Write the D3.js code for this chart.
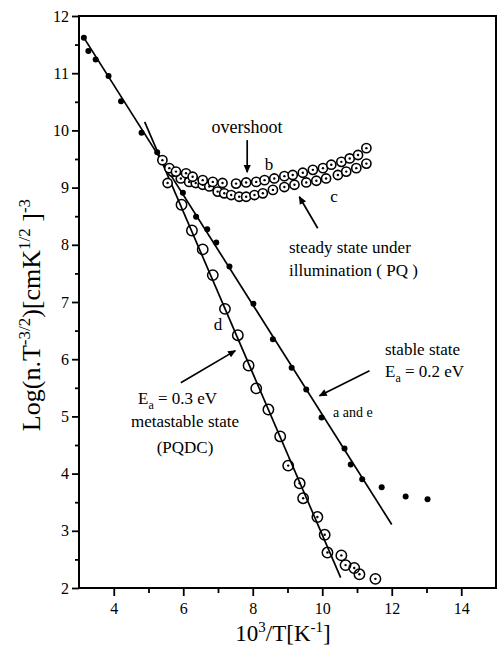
<!DOCTYPE html>
<html>
<head>
<meta charset="utf-8">
<script src="https://cdn.jsdelivr.net/npm/d3@7"></script>
<style>
  body { margin: 0; background: #fff; }
  text { font-family: "Liberation Serif", "DejaVu Serif", serif; fill: #000; }
</style>
</head>
<body>
<svg width="497" height="651"></svg>
<script>
// series a and e : stable state, filled dots
let stableX = [3.14, 3.27, 3.48, 3.85, 4.21, 4.80, 5.25, 5.99, 6.37, 6.69, 6.95, 7.33, 8.02, 8.58, 9.12, 9.54, 9.98, 10.64, 10.82, 11.15, 11.71, 12.40, 13.03]
let stableY = [11.62, 11.39, 11.24, 10.95, 10.51, 9.96, 9.62, 8.91, 8.49, 8.27, 8.04, 7.62, 6.97, 6.35, 5.85, 5.47, 4.98, 4.44, 4.16, 3.90, 3.76, 3.60, 3.55]

// series d : metastable state (PQDC)
let metaX = [5.95, 6.25, 6.56, 6.85, 7.20, 7.57, 7.88, 8.10, 8.45, 8.79, 9.02, 9.35, 9.45, 9.86, 10.07, 10.15, 10.55, 10.67, 10.92, 11.07, 11.53]
let metaY = [8.70, 8.25, 7.92, 7.47, 6.88, 6.42, 5.89, 5.49, 5.12, 4.65, 4.14, 3.83, 3.57, 3.24, 2.93, 2.62, 2.57, 2.40, 2.35, 2.24, 2.16]

// series b : steady state under illumination, upper
let bX = [5.40, 5.60, 5.79, 6.08, 6.27, 6.56, 6.85, 7.13, 7.52, 7.81, 8.10, 8.34, 8.62, 8.91, 9.15, 9.44, 9.73, 10.02, 10.26, 10.55, 10.79, 11.03, 11.27]
let bY = [9.48, 9.34, 9.28, 9.25, 9.19, 9.13, 9.10, 9.08, 9.07, 9.09, 9.10, 9.13, 9.16, 9.20, 9.22, 9.26, 9.31, 9.34, 9.40, 9.45, 9.51, 9.57, 9.69]

// series c : steady state under illumination, lower
let cX = [5.55, 5.69, 5.93, 6.17, 6.36, 6.56, 6.75, 6.99, 7.18, 7.38, 7.61, 7.81, 8.05, 8.29, 8.58, 8.91, 9.20, 9.54, 9.83, 10.11, 10.45, 10.69, 10.98, 11.27]
let cY = [9.08, 9.28, 9.16, 9.10, 9.08, 9.05, 9.02, 8.93, 8.90, 8.87, 8.84, 8.84, 8.87, 8.90, 8.96, 9.01, 9.05, 9.09, 9.12, 9.16, 9.22, 9.28, 9.34, 9.42]

// fitted lines
let fitStableX = [3.12, 12.0]
let fitStableY = [11.64, 3.11]
let fitMetaX = [4.89, 10.53]
let fitMetaY = [10.15, 2.18]

let xTicks = [4, 6, 8, 10, 12, 14]
let yTicks = [2, 3, 4, 5, 6, 7, 8, 9, 10, 11, 12]

let margin = { top: 16, bottom: 63, left: 79, right: 1 }
let width = 497
let height = 651

let xScale = d3.scaleLinear()
  .domain([3, 15])
  .range([margin.left, width - margin.right])
let yScale = d3.scaleLinear()
  .domain([2, 12])
  .range([height - margin.bottom, margin.top])

let svg = d3.select('svg')

let zip = (xs, ys) => xs.map((x, i) => ({ x: x, y: ys[i] }))

// frame
svg.append('rect')
  .attr('x', xScale(3))
  .attr('y', yScale(12))
  .attr('width', xScale(15) - xScale(3))
  .attr('height', yScale(2) - yScale(12))
  .attr('fill', 'none')
  .attr('stroke', '#000')
  .attr('stroke-width', 2)

// axes
let xAxis = d3.axisBottom(xScale).tickValues(xTicks).tickSize(8).tickPadding(7).tickFormat(d3.format('d'))
let xMinor = d3.axisBottom(xScale).tickValues([5, 7, 9, 11, 13]).tickSize(5).tickFormat('')
let yAxis = d3.axisLeft(yScale).tickValues(yTicks).tickSize(7).tickPadding(3).tickFormat(d3.format('d'))
let yMinor = d3.axisLeft(yScale).tickValues(d3.range(2.5, 12, 1)).tickSize(4).tickFormat('')

function styleAxis(g) {
  g.select('.domain').remove()
  g.selectAll('line').attr('stroke', '#000').attr('stroke-width', 1.8)
  g.selectAll('text').style('font-family', '"Liberation Serif", serif').style('font-size', '16px')
}

svg.append('g').attr('transform', 'translate(' + [0, yScale(2)] + ')').call(xAxis).call(styleAxis)
svg.append('g').attr('transform', 'translate(' + [0, yScale(2)] + ')').call(xMinor).call(styleAxis)
svg.append('g').attr('transform', 'translate(' + [xScale(3), 0] + ')').call(yAxis).call(styleAxis)
svg.append('g').attr('transform', 'translate(' + [xScale(3), 0] + ')').call(yMinor).call(styleAxis)

// fit lines
let line = d3.line().x(d => xScale(d.x)).y(d => yScale(d.y))
svg.append('path')
  .attr('d', line(zip(fitStableX, fitStableY)))
  .attr('stroke', '#000').attr('stroke-width', 1.7).attr('fill', 'none')
svg.append('path')
  .attr('d', line(zip(fitMetaX, fitMetaY)))
  .attr('stroke', '#000').attr('stroke-width', 1.7).attr('fill', 'none')

// dotted circles (b, c)
function dottedCircles(data, r) {
  let g = svg.append('g')
  g.selectAll('circle.o')
    .data(data)
    .enter()
    .append('circle')
    .attr('cx', d => xScale(d.x))
    .attr('cy', d => yScale(d.y))
    .attr('r', r)
    .attr('fill', '#fff')
    .attr('stroke', '#000')
    .attr('stroke-width', 1.6)
  g.selectAll('circle.dot')
    .data(data)
    .enter()
    .append('circle')
    .attr('cx', d => xScale(d.x))
    .attr('cy', d => yScale(d.y))
    .attr('r', 1.2)
    .attr('fill', '#000')
}
dottedCircles(zip(cX, cY), 4.6)
dottedCircles(zip(bX, bY), 4.6)

// metastable circles: open at top, dotted lower down
let meta = zip(metaX, metaY)
svg.append('g').selectAll('circle')
  .data(meta)
  .enter()
  .append('circle')
  .attr('cx', d => xScale(d.x))
  .attr('cy', d => yScale(d.y))
  .attr('r', 5.2)
  .attr('fill', 'none')
  .attr('stroke', '#000')
  .attr('stroke-width', 1.5)
svg.append('g').selectAll('circle')
  .data(meta.filter(d => d.x > 8.8))
  .enter()
  .append('circle')
  .attr('cx', d => xScale(d.x))
  .attr('cy', d => yScale(d.y))
  .attr('r', 1.2)
  .attr('fill', '#000')

// stable filled dots
svg.append('g').selectAll('circle')
  .data(zip(stableX, stableY))
  .enter()
  .append('circle')
  .attr('cx', d => xScale(d.x))
  .attr('cy', d => yScale(d.y))
  .attr('r', 3)
  .attr('fill', '#000')

// arrows
let defs = svg.append('defs')
defs.append('marker')
  .attr('id', 'head')
  .attr('viewBox', '0 0 10 10')
  .attr('refX', 9).attr('refY', 5)
  .attr('markerWidth', 10).attr('markerHeight', 8)
  .attr('markerUnits', 'userSpaceOnUse')
  .attr('orient', 'auto')
  .append('path')
  .attr('d', 'M0,0.5 L10,5 L0,9.5 Z')
  .attr('fill', '#000')

function arrow(x1, y1, x2, y2) {
  svg.append('line')
    .attr('x1', xScale(x1)).attr('y1', yScale(y1))
    .attr('x2', xScale(x2)).attr('y2', yScale(y2))
    .attr('stroke', '#000').attr('stroke-width', 1.7)
    .attr('marker-end', 'url(#head)')
}
arrow(7.84, 9.83, 7.84, 9.27)   // overshoot
arrow(9.87, 8.29, 9.34, 8.84)   // steady state
arrow(11.36, 5.80, 9.92, 5.36)  // stable state
arrow(5.93, 5.59, 7.50, 6.15)   // metastable

// annotations
function label(x, y, txt, size, anchor) {
  return svg.append('text')
    .attr('x', x).attr('y', y)
    .attr('text-anchor', anchor || 'start')
    .style('font-size', size + 'px')
    .text(txt)
}
label(247, 133, 'overshoot', 18, 'middle')
label(269, 170, 'b', 17, 'middle')
label(334, 202, 'c', 17, 'middle')
label(289, 253, 'steady state under', 17)
label(289, 276, 'illumination ( PQ )', 17)
label(385, 355, 'stable state', 17)
label(333, 417, 'a and  e', 14)
label(218, 330, 'd', 17, 'middle')
label(185, 427, 'metastable state', 17, 'middle')
label(185, 453, '(PQDC)', 17, 'middle')

function eaLabel(x, y, val) {
  let t = svg.append('text').attr('x', x).attr('y', y).style('font-size', '17px')
  t.append('tspan').text('E')
  t.append('tspan').attr('dy', 5).style('font-size', '12px').text('a')
  t.append('tspan').attr('dy', -5).text(' = ' + val + ' eV')
}
eaLabel(385, 377, '0.2')
eaLabel(138, 404, '0.3')

// axis titles
let xt = svg.append('text')
  .attr('x', 283).attr('y', 641)
  .attr('text-anchor', 'middle')
  .style('font-size', '23px')
xt.append('tspan').text('10')
xt.append('tspan').attr('dy', -9).style('font-size', '15px').text('3')
xt.append('tspan').attr('dy', 9).text('/T[K')
xt.append('tspan').attr('dy', -9).style('font-size', '15px').text('-1')
xt.append('tspan').attr('dy', 9).text(']')

let yt = svg.append('text')
  .attr('transform', 'translate(40,315) rotate(-90)')
  .attr('text-anchor', 'middle')
  .style('font-size', '26px')
yt.append('tspan').text('Log(n.T')
yt.append('tspan').attr('dy', -10).style('font-size', '17px').text('-3/2')
yt.append('tspan').attr('dy', 10).text(')[cmK')
yt.append('tspan').attr('dy', -10).style('font-size', '17px').text('1/2')
yt.append('tspan').attr('dy', 10).text(' ]')
yt.append('tspan').attr('dy', -10).style('font-size', '17px').text('-3')
</script>
</body>
</html>
